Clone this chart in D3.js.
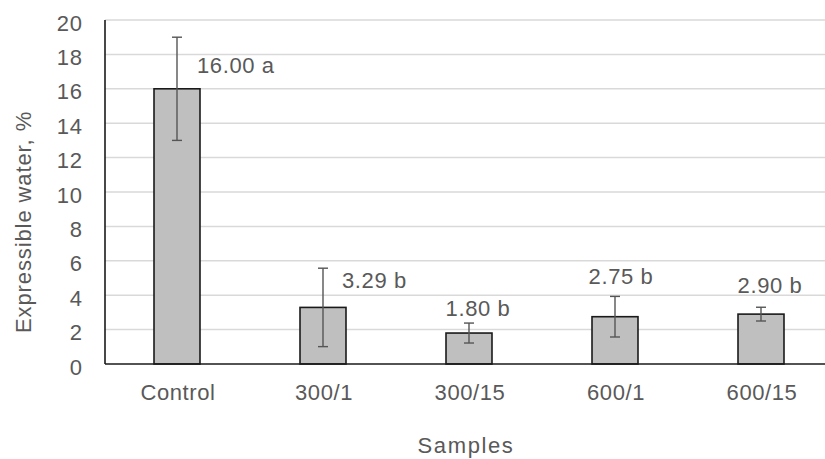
<!DOCTYPE html>
<html><head><meta charset="utf-8">
<script src="https://cdn.jsdelivr.net/npm/d3@7/dist/d3.min.js"></script>
<style>
html,body{margin:0;padding:0;background:#fff;}
text{font-family:"Liberation Sans",Arial,sans-serif;fill:#595959;}
</style></head>
<body><svg id="c" width="825" height="459"></svg>
<script>
// ---- data ----
const categories = ["Control", "300/1", "300/15", "600/1", "600/15"];
const values = [16.00, 3.29, 1.80, 2.75, 2.90];
const errors = [3.0, 2.28, 0.58, 1.18, 0.40];
const labels = ["16.00 a", "3.29 b", "1.80 b", "2.75 b", "2.90 b"];
const yTicks = [0, 2, 4, 6, 8, 10, 12, 14, 16, 18, 20];

// ---- layout ----
const W = 825, H = 459;
const x0 = 105, yBottom = 364, yTop = 20;
// label offsets (px): [dx from bar centre, dy from bar top / error top, anchor]
const labelLayout = [
  {dx: 20, ref: "bar", dy: -16, anchor: "start"},
  {dx: 19, ref: "bar", dy: -19.5, anchor: "start"},
  {dx: 9, ref: "err", dy: -7, anchor: "middle"},
  {dx: 6, ref: "err", dy: -12, anchor: "middle"},
  {dx: 9, ref: "err", dy: -14, anchor: "middle"}
];

const svg = d3.select("#c");
const x = d3.scaleBand().domain(categories).range([104, 834])
  .paddingInner(0.685).paddingOuter(0.3425);
const y = d3.scaleLinear().domain([0, 20]).range([yBottom, yTop]);

// gridlines
svg.append("g").selectAll("line").data(yTicks.filter(d => d > 0)).join("line")
  .attr("x1", x0).attr("x2", W)
  .attr("y1", d => y(d)).attr("y2", d => y(d))
  .attr("stroke", "#d9d9d9").attr("stroke-width", 1.5);

// y tick labels
const yAxis = d3.axisLeft(y).tickValues(yTicks).tickSize(0).tickPadding(0);
const gy = svg.append("g").attr("transform", `translate(${x0},0)`).call(yAxis);
gy.select(".domain").remove();
gy.selectAll("text").attr("x", -22).attr("dy", 10)
  .style("font-size", "22px").style("letter-spacing", "0.9px")
  .attr("fill", "#595959");

// bars
const bw = x.bandwidth();
svg.append("g").selectAll("rect").data(values).join("rect")
  .attr("x", (d, i) => x(categories[i]))
  .attr("y", d => y(d))
  .attr("width", bw)
  .attr("height", d => y(0) - y(d))
  .attr("fill", "#bfbfbf").attr("stroke", "#1a1a1a").attr("stroke-width", 1.6);

// error bars
const eg = svg.append("g").attr("stroke", "#555").attr("stroke-width", 1.4).attr("fill", "none");
values.forEach((v, i) => {
  const cx = x(categories[i]) + bw / 2;
  const top = y(v + errors[i]), bot = y(v - errors[i]);
  eg.append("line").attr("x1", cx).attr("x2", cx).attr("y1", top).attr("y2", bot);
  eg.append("line").attr("x1", cx - 5).attr("x2", cx + 5).attr("y1", top).attr("y2", top);
  eg.append("line").attr("x1", cx - 5).attr("x2", cx + 5).attr("y1", bot).attr("y2", bot);
});

// axis lines
svg.append("line").attr("x1", x0).attr("x2", x0).attr("y1", yTop).attr("y2", yBottom)
  .attr("stroke", "#1a1a1a").attr("stroke-width", 1.6);
svg.append("line").attr("x1", x0).attr("x2", W).attr("y1", yBottom).attr("y2", yBottom)
  .attr("stroke", "#1a1a1a").attr("stroke-width", 1.6);

// x tick labels
const xAxis = d3.axisBottom(x).tickSize(0).tickPadding(0);
const gx = svg.append("g").attr("transform", `translate(0,${yBottom})`).call(xAxis);
gx.select(".domain").remove();
gx.selectAll("text").attr("y", 36).attr("dy", 0).attr("dx", 1)
  .style("font-size", "22px").style("letter-spacing", "0.6px").attr("fill", "#595959");

// data labels
svg.append("g").selectAll("text").data(labels).join("text")
  .attr("x", (d, i) => x(categories[i]) + bw / 2 + labelLayout[i].dx)
  .attr("y", (d, i) => (labelLayout[i].ref === "bar" ? y(values[i]) : y(values[i] + errors[i])) + labelLayout[i].dy)
  .attr("text-anchor", (d, i) => labelLayout[i].anchor)
  .style("font-size", "22px").style("letter-spacing", "0.6px")
  .text(d => d);

// axis titles
svg.append("text").attr("x", 466).attr("y", 453).attr("text-anchor", "middle")
  .style("font-size", "22px").style("letter-spacing", "1.6px").text("Samples");
svg.append("text").attr("transform", "translate(31,222) rotate(-90)").attr("text-anchor", "middle")
  .style("font-size", "22px").style("letter-spacing", "0.9px").text("Expressible water, %");
</script></body></html>
